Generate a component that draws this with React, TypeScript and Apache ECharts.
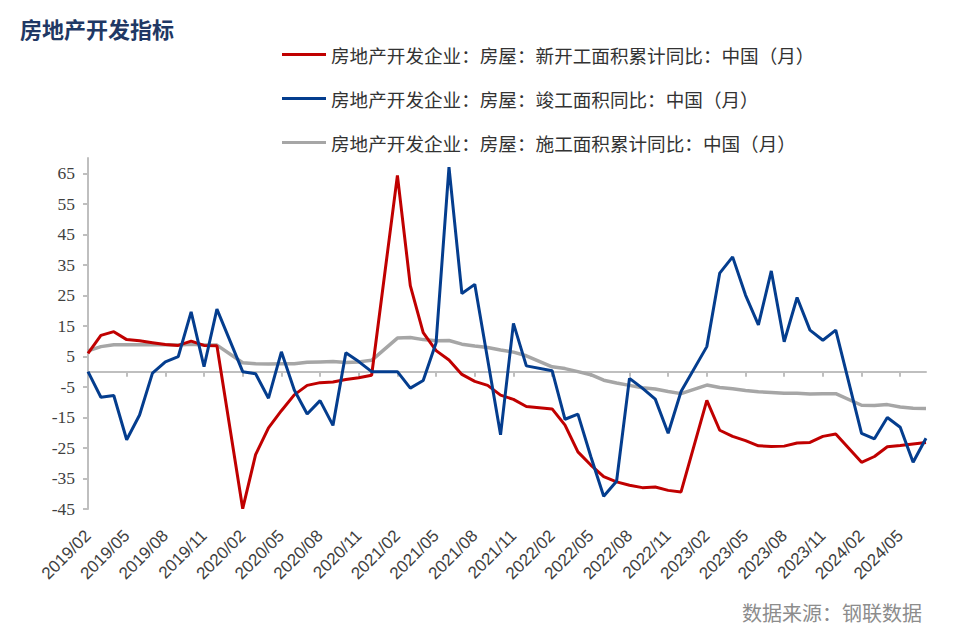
import React, { useEffect, useRef } from 'react';
import * as echarts from 'echarts';

const months = [
  '2019/02', '2019/03', '2019/04', '2019/05', '2019/06', '2019/07', '2019/08', '2019/09', '2019/10', '2019/11', '2019/12',
  '2020/01', '2020/02', '2020/03', '2020/04', '2020/05', '2020/06', '2020/07', '2020/08', '2020/09', '2020/10', '2020/11', '2020/12',
  '2021/01', '2021/02', '2021/03', '2021/04', '2021/05', '2021/06', '2021/07', '2021/08', '2021/09', '2021/10', '2021/11', '2021/12',
  '2022/01', '2022/02', '2022/03', '2022/04', '2022/05', '2022/06', '2022/07', '2022/08', '2022/09', '2022/10', '2022/11', '2022/12',
  '2023/01', '2023/02', '2023/03', '2023/04', '2023/05', '2023/06', '2023/07', '2023/08', '2023/09', '2023/10', '2023/11', '2023/12',
  '2024/01', '2024/02', '2024/03', '2024/04', '2024/05', '2024/06', '2024/07',
];

// 新开工面积累计同比
const newStarts = [
  6.0, 11.9, 13.1, 10.5, 10.1, 9.5, 8.9, 8.6, 10.0, 8.6, 8.5,
  null, -44.9, -27.2, -18.4, -12.8, -7.6, -4.5, -3.6, -3.4, -2.6, -2.0, -1.2,
  null, 64.3, 28.2, 12.8, 6.9, 3.8, -0.9, -3.2, -4.5, -7.7, -9.1, -11.4,
  null, -12.2, -17.5, -26.3, -30.6, -34.4, -36.1, -37.2, -38.0, -37.8, -38.9, -39.4,
  null, -9.4, -19.2, -21.2, -22.6, -24.3, -24.5, -24.4, -23.4, -23.2, -21.2, -20.4,
  null, -29.7, -27.8, -24.6, -24.2, -23.7, -23.2,
];

// 竣工面积同比
const completions = [
  0, -8.4, -7.8, -22.3, -14.2, -0.5, 3.2, 4.9, 19.6, 1.6, 20.5,
  null, 0, -0.7, -8.7, 6.5, -6.0, -13.9, -9.5, -17.6, 6.2, 3.3, 0,
  null, 0, -5.4, -2.9, 9.5, 67.0, 25.6, 28.6, 4.0, -20.7, 15.8, 1.9,
  null, 0.3, -15.6, -13.9, -27.8, -40.8, -35.9, -2.2, -5.4, -9.0, -20.2, -6.5,
  null, 8.2, 32.3, 37.6, 25.1, 15.3, 33.0, 9.8, 24.3, 13.6, 10.3, 13.6,
  null, -20.2, -22.0, -15.0, -18.2, -29.7, -21.8,
];

// 施工面积累计同比
const underConstruction = [
  6.8, 8.2, 8.8, 8.8, 8.8, 8.8, 8.8, 8.7, 9.0, 8.7, 8.7,
  null, 2.9, 2.6, 2.5, 2.6, 2.6, 3.1, 3.2, 3.3, 3.0, 3.2, 3.7,
  null, 11.0, 11.2, 10.5, 10.1, 10.2, 9.0, 8.4, 7.9, 7.1, 6.4, 5.2,
  null, 1.6, 1.0, 0.0, -1.0, -2.8, -3.7, -4.5, -5.3, -5.7, -6.5, -7.2,
  null, -4.4, -5.2, -5.6, -6.2, -6.6, -6.8, -7.1, -7.1, -7.3, -7.2, -7.2,
  null, -11.0, -11.1, -10.8, -11.6, -12.0, -12.1,
];

const yTicks = [-45, -35, -25, -15, -5, 5, 15, 25, 35, 45, 55, 65];

const seriesNames = [
  '房地产开发企业：房屋：新开工面积累计同比：中国（月）',
  '房地产开发企业：房屋：竣工面积同比：中国（月）',
  '房地产开发企业：房屋：施工面积累计同比：中国（月）',
];

const RED = '#C00000';
const BLUE = '#043D8E';
const GRAY = '#A6A6A6';
const AXIS = '#BFBFBF';
const CJK = 'Noto Sans CJK SC';

export default function App() {
  const ref = useRef<HTMLDivElement>(null);
  useEffect(() => {
    document.body.style.margin = '0';
    const chart = echarts.init(ref.current!, null, { renderer: 'svg' });
    chart.setOption({
      animation: false,
      backgroundColor: '#ffffff',
      title: {
        text: '房地产开发指标',
        left: 15,
        top: 12,
        textStyle: { fontFamily: CJK, fontSize: 22, fontWeight: 'bold', color: '#1F3864' },
      },
      legend: {
        orient: 'vertical',
        left: 277,
        top: 40,
        icon: 'rect',
        itemWidth: 44,
        itemHeight: 3,
        itemGap: 25,
        textStyle: { fontFamily: CJK, fontSize: 18.6, color: '#333333', lineHeight: 19 },
        data: seriesNames,
      },
      graphic: [
        {
          type: 'text',
          right: 40,
          top: 602,
          style: { text: '数据来源：钢联数据', fontFamily: CJK, fontSize: 20, fill: '#8C8C8C' },
        },
      ],
      grid: { left: 88, right: 36, top: 158, bottom: 129 },
      xAxis: [
        {
          type: 'category',
          data: months,
          boundaryGap: false,
          position: 'bottom',
          axisLine: { show: false, onZero: false },
          axisTick: { show: false },
          axisLabel: {
            interval: 2,
            rotate: 45,
            margin: 24,
            align: 'right',
            verticalAlign: 'middle',
            fontFamily: 'Liberation Sans',
            fontSize: 17,
            color: '#404040',
          },
        },
        {
          type: 'category',
          data: months,
          boundaryGap: false,
          position: 'bottom',
          axisLine: { show: true, onZero: true, lineStyle: { color: AXIS, width: 2 } },
          axisTick: { show: true, interval: 2, length: 5, lineStyle: { color: AXIS, width: 2 } },
          axisLabel: { show: false },
          splitLine: { show: false },
        },
      ],
      yAxis: {
        type: 'value',
        min: -45,
        max: 70,
        axisLine: { show: true, onZero: false, lineStyle: { color: AXIS, width: 2 } },
        axisTick: { show: true, length: 5, customValues: yTicks, lineStyle: { color: AXIS, width: 2 } },
        axisLabel: {
          customValues: yTicks,
          margin: 13,
          fontFamily: 'Liberation Serif',
          fontSize: 17.5,
          color: '#404040',
        },
        splitLine: { show: false },
      },
      series: [
        {
          name: seriesNames[2],
          type: 'line',
          data: underConstruction,
          symbol: 'none',
          connectNulls: true,
          lineStyle: { color: GRAY, width: 3.5 },
          itemStyle: { color: GRAY },
          z: 2,
        },
        {
          name: seriesNames[0],
          type: 'line',
          data: newStarts,
          symbol: 'none',
          connectNulls: true,
          lineStyle: { color: RED, width: 3 },
          itemStyle: { color: RED },
          z: 3,
        },
        {
          name: seriesNames[1],
          type: 'line',
          data: completions,
          symbol: 'none',
          connectNulls: true,
          lineStyle: { color: BLUE, width: 3 },
          itemStyle: { color: BLUE },
          z: 4,
        },
      ],
    });
    return () => chart.dispose();
  }, []);
  return <div ref={ref} style={{ width: 962, height: 638, position: 'absolute', left: 0, top: 0 }} />;
}
